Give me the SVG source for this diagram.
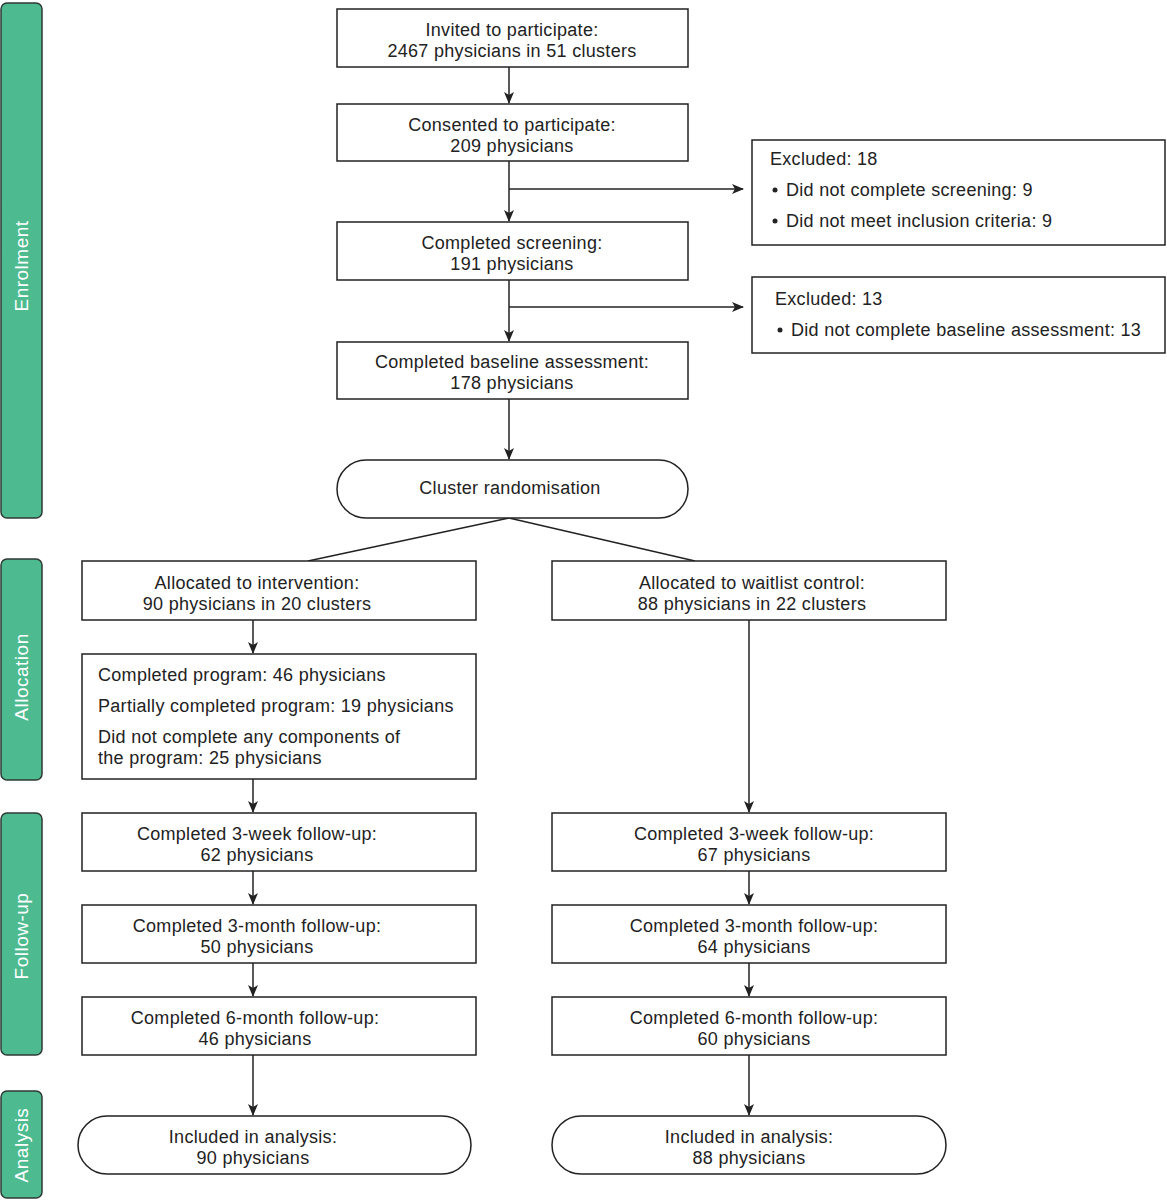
<svg xmlns="http://www.w3.org/2000/svg" width="1167" height="1200" viewBox="0 0 1167 1200">
<style>
.bar{fill:#4dbb8f;stroke:#2f3a36;stroke-width:1.5}
.bt{font-family:"Liberation Sans",Arial,sans-serif;font-size:19px;letter-spacing:0.5px;fill:#ffffff;text-anchor:middle}
.box{fill:#ffffff;stroke:#222;stroke-width:1.5}
.t{font-family:"Liberation Sans",Arial,sans-serif;font-size:18px;letter-spacing:0.3px;fill:#222;text-anchor:middle}
.tl{font-family:"Liberation Sans",Arial,sans-serif;font-size:18px;letter-spacing:0.3px;fill:#222}
.c{stroke:#222;stroke-width:1.5;fill:none}
</style>
<defs>
<marker id="ah" markerWidth="12" markerHeight="10" refX="11" refY="5" orient="auto" markerUnits="userSpaceOnUse">
<path d="M0,0 L12,5 L0,10 L3,5 Z" fill="#222"/>
</marker>
</defs>
<rect width="1167" height="1200" fill="#ffffff"/>

<g id="bars">
<g id="bar-enrolment"><rect class="bar" x="1" y="3" width="41" height="515" rx="6"/><text class="bt" transform="translate(28,266) rotate(-90)">Enrolment</text></g>
<g id="bar-allocation"><rect class="bar" x="1" y="559" width="41" height="221" rx="6"/><text class="bt" transform="translate(28,677) rotate(-90)">Allocation</text></g>
<g id="bar-followup"><rect class="bar" x="1" y="813" width="41" height="242" rx="6"/><text class="bt" transform="translate(28,936) rotate(-90)">Follow-up</text></g>
<g id="bar-analysis"><rect class="bar" x="1" y="1091" width="41" height="107" rx="6"/><text class="bt" transform="translate(28,1145) rotate(-90)">Analysis</text></g>
</g>

<g id="connectors">
<line class="c" x1="509" y1="67" x2="509" y2="103" marker-end="url(#ah)"/>
<line class="c" x1="509" y1="161" x2="509" y2="221" marker-end="url(#ah)"/>
<line class="c" x1="509" y1="189" x2="743" y2="189" marker-end="url(#ah)"/>
<line class="c" x1="509" y1="280" x2="509" y2="341" marker-end="url(#ah)"/>
<line class="c" x1="509" y1="307" x2="743" y2="307" marker-end="url(#ah)"/>
<line class="c" x1="509" y1="399" x2="509" y2="459" marker-end="url(#ah)"/>
<line class="c" x1="509" y1="518" x2="308" y2="561"/>
<line class="c" x1="509" y1="518" x2="695" y2="561"/>
<line class="c" x1="253" y1="620" x2="253" y2="653" marker-end="url(#ah)"/>
<line class="c" x1="253" y1="779" x2="253" y2="812" marker-end="url(#ah)"/>
<line class="c" x1="253" y1="871" x2="253" y2="904" marker-end="url(#ah)"/>
<line class="c" x1="253" y1="963" x2="253" y2="996" marker-end="url(#ah)"/>
<line class="c" x1="253" y1="1055" x2="253" y2="1115" marker-end="url(#ah)"/>
<line class="c" x1="749" y1="620" x2="749" y2="812" marker-end="url(#ah)"/>
<line class="c" x1="749" y1="871" x2="749" y2="904" marker-end="url(#ah)"/>
<line class="c" x1="749" y1="963" x2="749" y2="996" marker-end="url(#ah)"/>
<line class="c" x1="749" y1="1055" x2="749" y2="1115" marker-end="url(#ah)"/>
</g>

<g id="invited"><rect class="box" x="337" y="9" width="351" height="58"/><text class="t" x="512" y="36">Invited to participate:</text><text class="t" x="512" y="57">2467 physicians in 51 clusters</text></g>
<g id="consented"><rect class="box" x="337" y="104" width="351" height="57"/><text class="t" x="512" y="131">Consented to participate:</text><text class="t" x="512" y="152">209 physicians</text></g>
<g id="screening"><rect class="box" x="337" y="222" width="351" height="58"/><text class="t" x="512" y="249">Completed screening:</text><text class="t" x="512" y="270">191 physicians</text></g>
<g id="baseline"><rect class="box" x="337" y="342" width="351" height="57"/><text class="t" x="512" y="368">Completed baseline assessment:</text><text class="t" x="512" y="389">178 physicians</text></g>
<g id="randomisation"><rect class="box" x="337" y="460" width="351" height="58" rx="29"/><text class="t" x="510" y="494">Cluster randomisation</text></g>

<g id="excluded18"><rect class="box" x="752" y="140" width="413" height="105"/>
<text class="tl" x="770" y="165">Excluded: 18</text>
<circle cx="775" cy="190" r="2.5" fill="#222"/><text class="tl" x="786" y="196">Did not complete screening: 9</text>
<circle cx="775" cy="221" r="2.5" fill="#222"/><text class="tl" x="786" y="227">Did not meet inclusion criteria: 9</text></g>
<g id="excluded13"><rect class="box" x="752" y="277" width="413" height="76"/>
<text class="tl" x="775" y="305">Excluded: 13</text>
<circle cx="780" cy="330" r="2.5" fill="#222"/><text class="tl" x="791" y="336">Did not complete baseline assessment: 13</text></g>

<g id="alloc-int"><rect class="box" x="82" y="561" width="394" height="59"/><text class="t" x="257" y="589">Allocated to intervention:</text><text class="t" x="257" y="610">90 physicians in 20 clusters</text></g>
<g id="alloc-wait"><rect class="box" x="552" y="561" width="394" height="59"/><text class="t" x="752" y="589">Allocated to waitlist control:</text><text class="t" x="752" y="610">88 physicians in 22 clusters</text></g>

<g id="program"><rect class="box" x="82" y="654" width="394" height="125"/>
<text class="tl" x="98" y="681">Completed program: 46 physicians</text>
<text class="tl" x="98" y="712">Partially completed program: 19 physicians</text>
<text class="tl" x="98" y="743">Did not complete any components of</text>
<text class="tl" x="98" y="764">the program: 25 physicians</text></g>

<g id="int-3w"><rect class="box" x="82" y="813" width="394" height="58"/><text class="t" x="257" y="840">Completed 3-week follow-up:</text><text class="t" x="257" y="861">62 physicians</text></g>
<g id="int-3m"><rect class="box" x="82" y="905" width="394" height="58"/><text class="t" x="257" y="932">Completed 3-month follow-up:</text><text class="t" x="257" y="953">50 physicians</text></g>
<g id="int-6m"><rect class="box" x="82" y="997" width="394" height="58"/><text class="t" x="255" y="1024">Completed 6-month follow-up:</text><text class="t" x="255" y="1045">46 physicians</text></g>
<g id="int-incl"><rect class="box" x="78" y="1116" width="393" height="58" rx="29"/><text class="t" x="253" y="1143">Included in analysis:</text><text class="t" x="253" y="1164">90 physicians</text></g>

<g id="wait-3w"><rect class="box" x="552" y="813" width="394" height="58"/><text class="t" x="754" y="840">Completed 3-week follow-up:</text><text class="t" x="754" y="861">67 physicians</text></g>
<g id="wait-3m"><rect class="box" x="552" y="905" width="394" height="58"/><text class="t" x="754" y="932">Completed 3-month follow-up:</text><text class="t" x="754" y="953">64 physicians</text></g>
<g id="wait-6m"><rect class="box" x="552" y="997" width="394" height="58"/><text class="t" x="754" y="1024">Completed 6-month follow-up:</text><text class="t" x="754" y="1045">60 physicians</text></g>
<g id="wait-incl"><rect class="box" x="552" y="1116" width="394" height="58" rx="29"/><text class="t" x="749" y="1143">Included in analysis:</text><text class="t" x="749" y="1164">88 physicians</text></g>
</svg>
